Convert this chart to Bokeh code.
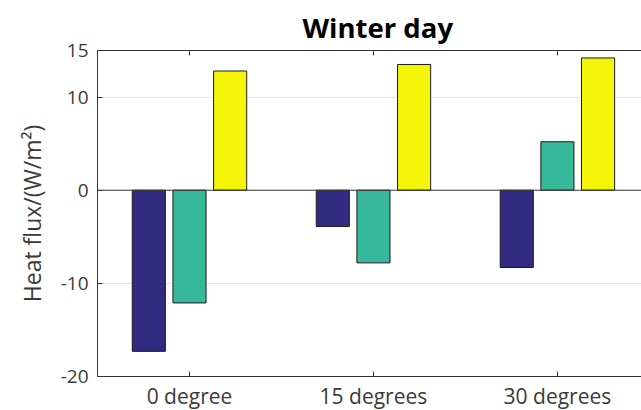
from bokeh.plotting import figure
from bokeh.models import FixedTicker, LinearAxis, Span, Range1d, ColumnDataSource
from bokeh.embed import file_html
from bokeh.resources import INLINE

# ---- data ----
categories = ["0 degree", "15 degrees", "30 degrees"]
series_blue = [-17.3, -3.9, -8.3]
series_teal = [-12.1, -7.8, 5.2]
series_yellow = [12.8, 13.5, 14.2]
y_ticks = [-20, -10, 0, 10, 15]

colors = ["#322a80", "#38b89a", "#f5f50a"]
axis_col = "#333333"
FONT = "Open Sans"

p = figure(frame_width=544, frame_height=326,
           x_range=Range1d(0.5, 3.457), y_range=Range1d(-20, 15),
           output_backend="svg", toolbar_location=None,
           min_border_left=97, min_border_right=0, min_border_top=50,
           min_border_bottom=20, title="Winter day",
           background_fill_color="white", border_fill_color="white")
p.outline_line_color = None

xs = list(range(1, len(categories) + 1))
for k, (vals, col) in enumerate(zip([series_blue, series_teal, series_yellow], colors)):
    off = (k - 1) * 0.221
    src = ColumnDataSource(dict(x=[x + off for x in xs], top=vals))
    p.vbar(x="x", top="top", bottom=0, width=0.18, source=src,
           fill_color=col, line_color="#1a1a1a", line_width=1)

p.add_layout(Span(location=0, dimension="width", line_color="#3a3a3a", line_width=1))

# grid
p.xgrid.visible = False
p.ygrid.ticker = FixedTicker(ticks=y_ticks)
p.ygrid.grid_line_color = "#e6e6e6"
p.ygrid.level = "underlay"

# x axis
xa = p.xaxis[0]
xa.ticker = FixedTicker(ticks=xs)
xa.major_label_overrides = {x: c for x, c in zip(xs, categories)}
xa.major_tick_in = 5
xa.major_tick_out = 0
xa.minor_tick_line_color = None
xa.axis_line_color = axis_col
xa.major_tick_line_color = axis_col
xa.major_label_text_font = FONT
xa.major_label_text_font_size = "21px"
xa.major_label_text_color = "#3a3a3a"
xa.major_label_standoff = 5

# y axis
ya = p.yaxis[0]
ya.ticker = FixedTicker(ticks=y_ticks)
ya.major_label_overrides = {t: str(t) for t in y_ticks}
ya.major_tick_in = 5
ya.major_tick_out = 0
ya.minor_tick_line_color = None
ya.axis_line_color = axis_col
ya.major_tick_line_color = axis_col
ya.major_label_text_font = FONT
ya.major_label_text_font_size = "19px"
ya.major_label_text_color = "#3a3a3a"
ya.major_label_standoff = 9
ya.axis_label = "Heat flux/(W/m²)"
ya.axis_label_text_font = FONT
ya.axis_label_text_font_size = "23px"
ya.axis_label_text_font_style = "normal"
ya.axis_label_text_color = "#3a3a3a"
ya.axis_label_standoff = 10

# top axis (box line with ticks, no labels)
ta = LinearAxis(ticker=FixedTicker(ticks=xs), major_tick_in=5, major_tick_out=0,
                minor_tick_line_color=None, axis_line_color=axis_col,
                major_tick_line_color=axis_col, major_label_text_color=None,
                major_label_standoff=0)
p.add_layout(ta, "above")

# title
p.title.text_font = FONT
p.title.text_font_size = "27.5px"
p.title.text_font_style = "bold"
p.title.align = "left"
p.title.offset = 205
p.title.text_color = "black"

open("out.html", "w").write(file_html(p, INLINE))
